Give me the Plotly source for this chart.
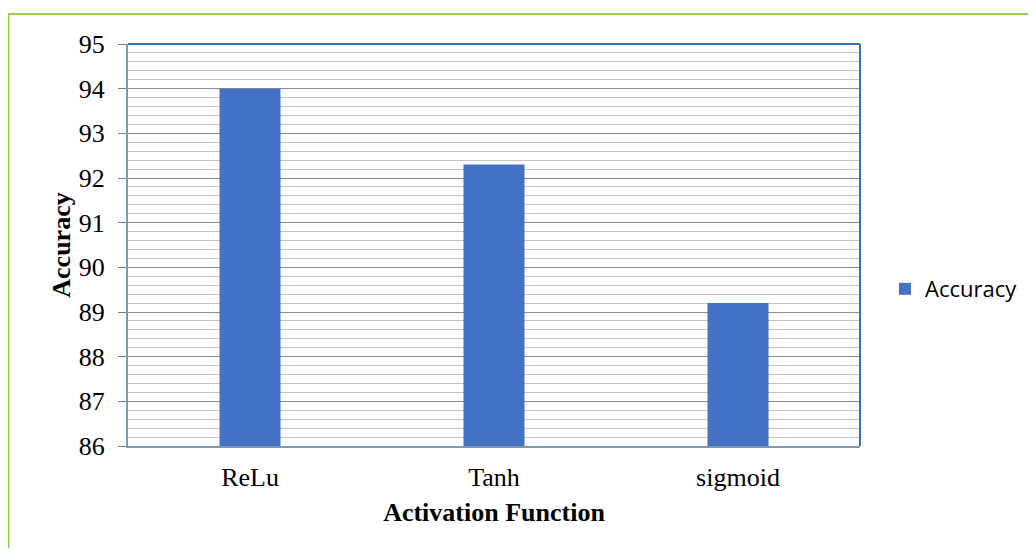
import plotly.graph_objects as go

categories = ["ReLu", "Tanh", "sigmoid"]
accuracy = [94.0, 92.3, 89.2]
y_ticks = [86, 87, 88, 89, 90, 91, 92, 93, 94, 95]

# page body adds an 8px margin, so the figure is laid out 8px up/left
W, H = 1020, 540
L, T = 120, 36
pw, ph = 732, 402
R, B = W - L - pw, H - T - ph

fig = go.Figure()
fig.add_trace(go.Bar(
    x=categories, y=accuracy, name="Accuracy",
    marker=dict(color="#4472C4", line=dict(width=0)),
    width=0.25, showlegend=True,
))

serif = "Liberation Serif, Times New Roman, serif"

fig.update_layout(
    width=W, height=H,
    margin=dict(l=L, r=R, t=T, b=B),
    paper_bgcolor="white", plot_bgcolor="white",
    font=dict(family=serif, size=26, color="black"),
    bargap=0.75,
    showlegend=True,
    legend=dict(xref="container", yref="container",
                x=877 / W, y=1 - 281 / H, xanchor="left", yanchor="middle",
                font=dict(family="Open Sans, Liberation Sans, sans-serif", size=22, color="black"),
                bgcolor="rgba(0,0,0,0)", itemwidth=30),
    xaxis=dict(
        showline=True, linecolor="#8497b0", linewidth=2,
        ticks="", tickfont=dict(family=serif, size=26),
        ticklabelstandoff=7,
        title=dict(text="<b>Activation Function</b>", font=dict(family=serif, size=26), standoff=12),
        showgrid=False,
    ),
    yaxis=dict(
        range=[86, 95], tickvals=y_ticks, ticktext=[str(v) for v in y_ticks],
        showline=True, linecolor="#8497b0", linewidth=2,
        ticks="outside", ticklen=8, tickcolor="#7f7f7f", tickwidth=1,
        tickfont=dict(family=serif, size=26),
        ticklabelstandoff=8,
        showgrid=True, gridcolor="#8c8c8c", gridwidth=1,
        minor=dict(dtick=0.2, showgrid=True, gridcolor="#c4c4c4", gridwidth=1, ticks=""),
        title=dict(text="<b>Accuracy</b>", font=dict(family=serif, size=26), standoff=1),
        zeroline=False,
    ),
)

# plot area top/right border (blue)
fig.add_shape(type="line", xref="paper", yref="paper", x0=0, x1=1, y0=1, y1=1,
              line=dict(color="#2e75b6", width=2))
fig.add_shape(type="line", xref="paper", yref="paper", x0=1, x1=1, y0=0, y1=1,
              line=dict(color="#2e75b6", width=2))

# outer green frame (left and top edges visible)
gx = (0 - L) / pw
gy = 1 + (T - 6) / ph
fig.add_shape(type="line", xref="paper", yref="paper", x0=gx, x1=gx, y0=-(B + 10) / ph, y1=gy,
              line=dict(color="#92d050", width=3))
fig.add_shape(type="line", xref="paper", yref="paper", x0=gx, x1=(W + 10 - L) / pw, y0=gy, y1=gy,
              line=dict(color="#92d050", width=2))

fig.write_html("out.html")
